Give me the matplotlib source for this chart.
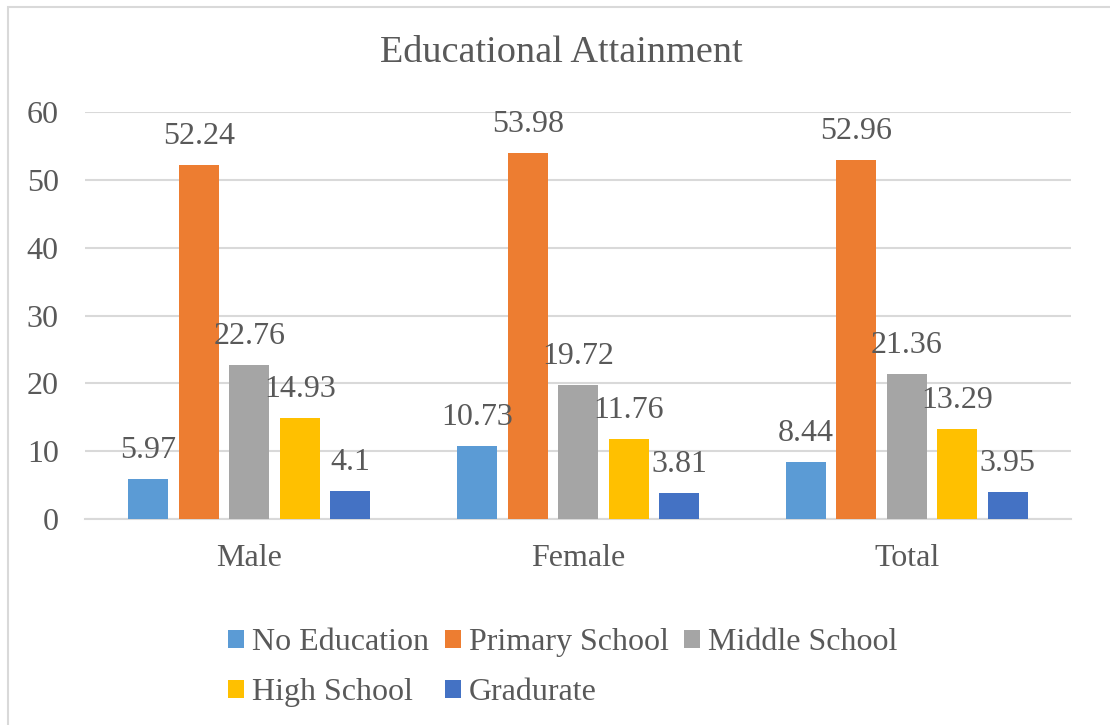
import numpy as np
import matplotlib.pyplot as plt
from matplotlib.patches import Rectangle

plt.rcParams['font.family'] = ['Liberation Serif', 'DejaVu Serif']

groups = ['Male', 'Female', 'Total']
levels = ['No Education', 'Primary School', 'Middle School', 'High School', 'Gradurate']
no_education = [5.97, 10.73, 8.44]
primary_school = [52.24, 53.98, 52.96]
middle_school = [22.76, 19.72, 21.36]
high_school = [14.93, 11.76, 13.29]
graduate = [4.1, 3.81, 3.95]
series = [no_education, primary_school, middle_school, high_school, graduate]
colors = ['#5B9BD5', '#ED7D31', '#A5A5A5', '#FFC000', '#4472C4']

text_col = '#595959'
grid_col = '#D9D9D9'
fs = 23

fig = plt.figure(figsize=(11.1, 7.25), dpi=100)
ax = fig.add_axes([0.0766, 0.284, 0.8884, 0.5615])

x = np.arange(len(groups))
pitch = 0.1535
width = 0.1216
handles = []
for i, (vals, c, name) in enumerate(zip(series, colors, levels)):
    off = (i - 2) * pitch
    bars = ax.bar(x + off, vals, width, color=c, label=name, zorder=3)
    handles.append(bars)
    for xi, v in zip(x + off, vals):
        ax.annotate(f'{v:g}', (xi, v), xytext=(0, 10), textcoords='offset points',
                    ha='center', va='bottom', fontsize=fs, color=text_col, zorder=4)

ax.set_xlim(-0.5, 2.5)
ax.set_ylim(0, 60)
ax.set_yticks(range(0, 61, 10))
ax.set_xticks(x)
ax.set_xticklabels(groups)
ax.yaxis.grid(True, color=grid_col, linewidth=1.5, zorder=0)
for s in ['top', 'right', 'left']:
    ax.spines[s].set_visible(False)
ax.spines['bottom'].set_color(grid_col)
ax.spines['bottom'].set_linewidth(1.5)
ax.tick_params(length=0, labelsize=fs, colors=text_col)
ax.tick_params(axis='x', pad=18)
ax.tick_params(axis='y', pad=19)

fig.text(0.506, 0.927, 'Educational Attainment', ha='center', va='center',
         fontsize=27.5, color=text_col)

# row-wise legend order for a 3-column layout
order = [0, 3, 1, 4, 2]
leg = fig.legend([handles[i] for i in order], [levels[i] for i in order],
                 ncol=3, loc='center', bbox_to_anchor=(0.507, 0.079),
                 frameon=False, fontsize=fs, handlelength=0.5, handleheight=0.5,
                 handletextpad=0.25, columnspacing=0.5, labelspacing=0.65)
for t in leg.get_texts():
    t.set_color(text_col)

# chart outline
fig.patches.append(Rectangle((8 / 1110, -0.1), 1.2, 0.1 + 1 - 7 / 725,
                             transform=fig.transFigure, fill=False,
                             edgecolor=grid_col, linewidth=1.5))

fig.savefig('out.png', dpi=100)
